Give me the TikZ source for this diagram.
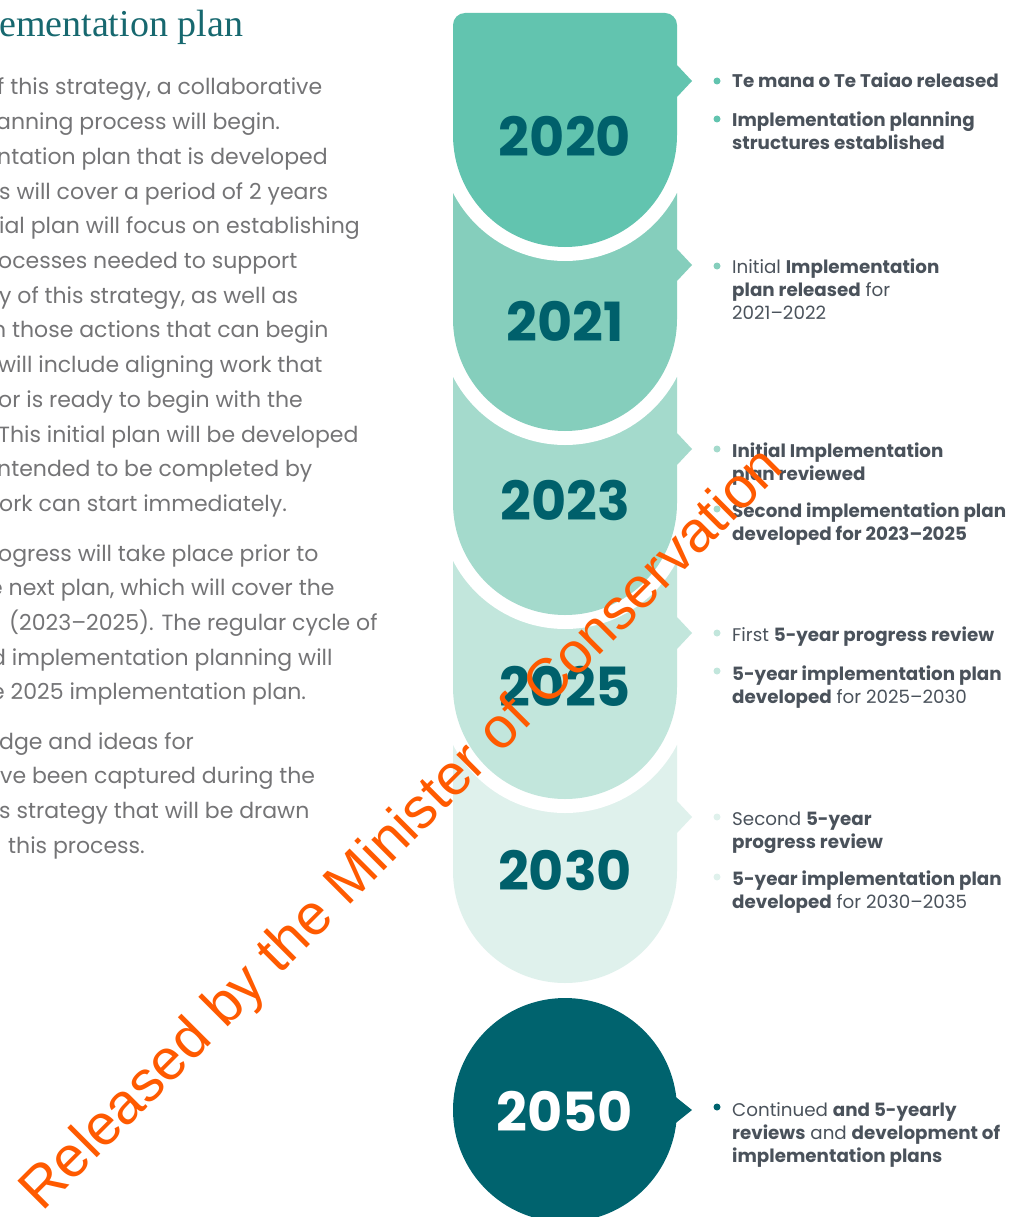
\documentclass[tikz,border=0pt]{standalone}
\usepackage{fontspec}
\newfontfamily\popfont{Poppins}
\newfontfamily\markfont{Liberation Sans}
\newfontfamily\headfont{Liberation Serif}
\usetikzlibrary{positioning}

\definecolor{tabA}{HTML}{62C4AF}
\definecolor{tabB}{HTML}{85CEBC}
\definecolor{tabC}{HTML}{A4DACC}
\definecolor{tabD}{HTML}{C2E6DC}
\definecolor{tabE}{HTML}{DFF1EC}
\definecolor{tabF}{HTML}{00636E}
\definecolor{yearteal}{HTML}{00606B}
\definecolor{headteal}{HTML}{17686F}
\definecolor{bodygrey}{HTML}{747476}
\definecolor{itemgrey}{HTML}{4A525B}
\definecolor{markorange}{HTML}{FF5A00}

% year tab: #1 top, #2 bottom, #3 colour
\newcommand{\yeartab}[3]{%
  \path[fill=#3, preaction={draw=white, line width=28pt}]
    (453,-#2+112) -- (453,-#1-12) arc[start angle=180, end angle=90, radius=12pt]
    -- (665,-#1) arc[start angle=90, end angle=0, radius=12pt]
    -- (677,-#2+182) -- (692,-#2+166) -- (677,-#2+150)
    -- (677,-#2+112) arc[start angle=0, end angle=-180, radius=112pt] -- cycle;
}

\begin{document}
\begin{tikzpicture}[
    x=1pt, y=1pt,
    bodytext/.style={anchor=base west, inner sep=0pt, text=bodygrey,
        font=\popfont\fontsize{22}{34.7}\selectfont},
    itemtext/.style={anchor=base west, inner sep=0pt, align=left, text=itemgrey,
        font=\popfont\fontsize{18.3}{23}\selectfont},
    yeartext/.style={inner sep=0pt, text=yearteal,
        font=\popfont\bfseries\fontsize{54}{54}\selectfont}
]
\useasboundingbox (0,0) rectangle (1014,-1217);

% heading and body text
\node[anchor=base west, inner sep=0pt, text=headteal, font=\headfont\fontsize{38}{38}\selectfont] (head) at (-1,-37) {ementation plan};

\node[bodytext] (p1) at (-3,-95) {f this strategy, a collaborative};
\node[bodytext] (p2) at (-4,-129.7) {anning process will begin.};
\node[bodytext] (p3) at (-3,-164.4) {ntation plan that is developed};
\node[bodytext] (p4) at (-1,-199.1) {s will cover a period of 2 years};
\node[bodytext] (p5) at (-1,-233.8) {ial plan will focus on establishing};
\node[bodytext] (p6) at (-2,-268.5) {ocesses needed to support};
\node[bodytext] (p7) at (-1,-303.2) {y of this strategy, as well as};
\node[bodytext] (p8) at (-8,-337.9) {n those actions that can begin};
\node[bodytext] (p9) at (-2,-372.6) {will include aligning work that};
\node[bodytext] (p10) at (-2,-407.3) {or is ready to begin with the};
\node[bodytext] (p11) at (-2,-442) {This initial plan will be developed};
\node[bodytext] (p12) at (-3,-476.7) {ntended to be completed by};
\node[bodytext] (p13) at (-1,-511.4) {ork can start immediately.};

\node[bodytext] (q1) at (-2,-561) {ogress will take place prior to};
\node[bodytext] (q2) at (-11,-595.7) {e next plan, which will cover the};
\node[bodytext] (q3) at (9,-630.4) {(2023–2025). The regular cycle of};
\node[bodytext] (q4) at (-9,-665.1) {d implementation planning will};
\node[bodytext] (q5) at (-9,-699.8) {e 2025 implementation plan.};

\node[bodytext] (r1) at (-1,-749) {dge and ideas for};
\node[bodytext] (r2) at (0,-783.7) {ve been captured during the};
\node[bodytext] (r3) at (-1,-818.4) {s strategy that will be drawn};
\node[bodytext] (r4) at (8,-853.1) {this process.};

% year tabs, lowest first
\yeartab{733}{983}{tabE}
\yeartab{549}{799}{tabD}
\yeartab{365}{615}{tabC}
\yeartab{181}{431}{tabB}
\yeartab{13}{247}{tabA}

\fill[tabF] (565,-1110) circle[radius=112pt];
\fill[tabF] (672,-1094) -- (692,-1110) -- (672,-1126) -- cycle;

\node[yeartext] (y2020) at (565,-136) {2020};
\node[yeartext] (y2021) at (565,-321) {2021};
\node[yeartext] (y2023) at (565,-500) {2023};
\node[yeartext] (y2025) at (565,-686) {2025};
\node[yeartext] (y2030) at (565,-870) {2030};
\node[yeartext, text=white] (y2050) at (565,-1111) {2050};

% milestones (nodes sit on their last line)
\fill[tabA] (717,-81) circle[radius=3.5pt];
\node[itemtext] (m2020a) at (732,-88) {\textbf{Te mana o Te Taiao released}};
\fill[tabA] (717,-119) circle[radius=3.5pt];
\node[itemtext] (m2020b) at (732,-150) {\textbf{Implementation planning}\\\textbf{structures established}};

\fill[tabB] (717,-266) circle[radius=3.5pt];
\node[itemtext] (m2021a) at (732,-319) {Initial \textbf{Implementation}\\\textbf{plan released} for\\2021–2022};

\fill[tabC] (717,-449) circle[radius=3.5pt];
\node[itemtext] (m2023a) at (732,-480) {\textbf{Initial Implementation}\\\textbf{plan reviewed}};
\fill[tabC] (717,-509) circle[radius=3.5pt];
\node[itemtext] (m2023b) at (732,-540) {\textbf{Second implementation plan}\\\textbf{developed for 2023–2025}};

\fill[tabD] (717,-633) circle[radius=3.5pt];
\node[itemtext] (m2025a) at (732,-641) {First \textbf{5-year progress review}};
\fill[tabD] (717,-671) circle[radius=3.5pt];
\node[itemtext] (m2025b) at (732,-703) {\textbf{5-year implementation plan}\\\textbf{developed} for 2025–2030};

\fill[tabE] (717,-817) circle[radius=3.5pt];
\node[itemtext] (m2030a) at (732,-848) {Second \textbf{5-year}\\\textbf{progress review}};
\fill[tabE] (717,-877) circle[radius=3.5pt];
\node[itemtext] (m2030b) at (732,-908) {\textbf{5-year implementation plan}\\\textbf{developed} for 2030–2035};

\fill[tabF] (717,-1107) circle[radius=3.5pt];
\node[itemtext] (m2050a) at (732,-1162) {Continued \textbf{and 5-yearly}\\\textbf{reviews} and \textbf{development of}\\\textbf{implementation plans}};

% stamp
\node[anchor=base west, inner sep=0pt, rotate=45, text=markorange,
    font=\markfont\fontsize{57.5}{57.5}\selectfont] (stamp) at (42,-1213) {Released by the Minister of Conservation};
\end{tikzpicture}
\end{document}
